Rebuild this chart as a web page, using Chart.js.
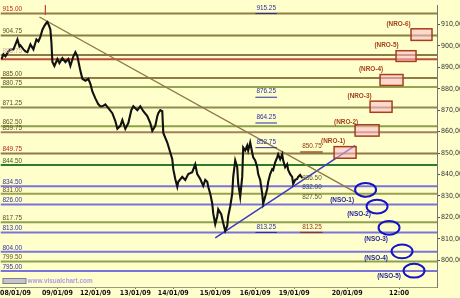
<!DOCTYPE html>
<html><head><meta charset="utf-8">
<script src="https://cdn.jsdelivr.net/npm/chart.js@4.4.1/dist/chart.umd.min.js"></script>
<style>html,body{margin:0;padding:0;background:#FFFFCC;overflow:hidden}#wrap{width:460px;height:298px}</style>
</head><body><div id="wrap"><canvas id="c" width="460" height="298"></canvas></div>
<script>
// ---- price path (bar index, price) ----
const barIndex = [1,3,5,8,10,13,15,17,19,20,23,25,27,30,33,36,38,40,42,44,46,47,49,50,51,52,54,57,59,62,65,68,70,73,75,77,78,80,82,85,88,90,92,95,98,100,102,105,108,112,115,117,120,122,125,128,131,133,137,140,143,147,150,152,155,157,158,160,162,163,167,170,172,173,175,177,178,182,185,188,192,195,197,200,203,205,207,208,210,212,213,215,217,218,221,223,225,227,228,230,232,233,235,237,238,240,242,243,245,247,248,250,252,253,255,257,258,260,262,263,265,267,268,270,272,273,275,277,278,280,282,283,285,287,288,290,292,293,295,297,298,300,302];
const closePrice = [893.8,896.0,895.1,897.4,898.3,898.3,900.6,902.9,899.7,900.2,898.3,897.4,897.0,900.6,898.3,902.9,902.0,904.3,907.5,909.3,910.7,911.1,908.9,907.5,901.5,892.4,890.6,893.8,891.9,894.2,892.4,893.8,890.6,895.1,897.0,895.1,892.8,888.3,884.6,883.7,884.6,882.3,878.7,875.5,872.7,871.8,871.8,872.7,870.9,868.6,864.9,861.3,862.7,865.4,861.3,864.0,870.0,871.8,870.0,871.8,869.5,867.2,864.0,860.4,862.7,867.2,868.6,870.0,869.5,859.4,854.9,850.3,847.1,842.5,837.9,834.3,836.6,838.9,837.5,840.2,841.1,844.8,840.2,837.9,834.7,837.5,836.6,834.3,831.1,826.5,821.9,816.9,820.6,823.8,821.5,817.4,813.7,816.0,820.6,825.1,831.1,838.9,846.6,843.4,835.7,829.7,838.9,852.6,851.2,853.5,851.2,854.9,850.3,848.0,846.6,843.4,840.2,837.5,831.1,826.5,829.7,833.4,836.6,840.2,842.5,842.1,845.7,848.0,849.4,847.1,849.4,846.6,843.4,844.8,842.1,840.2,838.9,835.7,837.5,837.9,838.9,839.8,838.4];

// ---- horizontal levels ----
const levelPrices = [915.00,904.75,895.75,893.75,885.00,880.75,871.25,862.50,859.75,849.75,844.50,834.50,831.00,826.00,817.75,813.00,804.00,799.50,795.00];
const levelLabels = ['915.00','904.75','895.75','','885.00','880.75','871.25','862.50','859.75','849.75','844.50','834.50','831.00','826.00','817.75','813.00','804.00','799.50','795.00'];
const levelLineColors = ['#8F7F45','#8A8040','#8A7A45','#C04A3A','#8F7B45','#93A352','#8F8A50','#8DA048','#A08060','#907A45','#2E7D2E','#7B74D8','#9AA050','#7B74D8','#8FA050','#7B74D8','#7B74D8','#8FA050','#7B74D8'];
const levelTextColors = ['#C02020','#5A5020','#D0A8A0','#000','#5A5020','#5A5020','#5A5020','#5A5020','#5A5020','#C02020','#3A5A20','#3030A0','#5A5020','#3030A0','#5A5020','#3030A0','#3030A0','#5A5020','#3030A0'];

// ---- pivot labels (middle, blue underlined) ----
const pivotPrices = [915.25,876.25,864.25,852.75,813.25];
const pivotBar = 266;
// ---- right-side labels ----
const sideLabelPrices = [850.75,836.50,832.00,827.50,813.25];
const sideLabelText = ['850.75','836.50','832.00','827.50','813.25'];
const sideLabelUnderline = [true,false,false,false,true];
const sideBar = 302;

// ---- trend lines ----
const downTrendBars = [39,365];
const downTrendPrices = [913.4,829.2];
const upTrendBars = [215,355];
const upTrendPrices = [810.5,853.5];
const markerBar = 45;
const markerPrices = [919,914.5];

// ---- NRO boxes ----
const nroNames = ['(NRO-1)','(NRO-2)','(NRO-3)','(NRO-4)','(NRO-5)','(NRO-6)'];
const nroBarFrom = [334,355,370,380,396,411];
const nroBarTo = [356,379,392,403,416,432];
const nroLow = [847.6,857.9,869.0,881.5,892.7,902.5];
const nroHigh = [853.0,863.2,874.2,886.6,897.7,907.9];
const nroLabelBar = [333,346,359.5,371,386.5,398.5];
const nroLabelPrice = [853.9,862.8,874.7,887.5,898.5,908.5];

// ---- NSO ellipses ----
const nsoNames = ['(NSO-1)','(NSO-2)','(NSO-3)','(NSO-4)','(NSO-5)'];
const nsoBar = [365.5,377,389,402,414];
const nsoPrice = [832.9,825.1,815.2,804.2,795.2];
const nsoHalfBars = 10.5;
const nsoHalfPrice = 3.2;
const nsoLabelBar = [342,359,376,376,389];
const nsoLabelPrice = [826.2,819.7,808.2,799.5,790.9];

// ---- axis ticks ----
const dateTickBars = [15,57,95,135,173,215,255,294,347,399];
const dateTickLabels = ['08/01/09','09/01/09','12/01/09','13/01/09','14/01/09','15/01/09','16/01/09','19/01/09','20/01/09','12:00'];
const priceTicks = [800,810,820,830,840,850,860,870,880,890,900,910];

const X_MIN = 0, X_MAX = 437;

const datasets = [];
datasets.push({data: barIndex.map((b,i)=>({x:b,y:closePrice[i]})), borderColor:'#121212', borderWidth:2.1, pointRadius:0, order:0});
datasets.push({data: downTrendBars.map((b,i)=>({x:b,y:downTrendPrices[i]})), borderColor:'#8E7846', borderWidth:1.4, pointRadius:0, order:1});
datasets.push({data: upTrendBars.map((b,i)=>({x:b,y:upTrendPrices[i]})), borderColor:'#3C3CC8', borderWidth:1.6, pointRadius:0, order:1});
datasets.push({data: markerPrices.map(p=>({x:markerBar,y:p})), borderColor:'#D04040', borderWidth:1, pointRadius:0, order:1});
levelPrices.forEach((p,i)=>{
  datasets.push({data:[{x:X_MIN,y:p},{x:X_MAX,y:p}], borderColor:levelLineColors[i], borderWidth:2, pointRadius:0, order:2});
});

const FONT = '"Liberation Sans Narrow","DejaVu Sans Condensed","Liberation Sans",Arial,sans-serif';

const overlay = {
  id:'overlay',
  beforeDraw(chart){
    const c = chart.ctx; c.save(); c.fillStyle='#FFFFCC'; c.fillRect(0,0,chart.width,chart.height); c.restore();
  },
  afterDatasetsDraw(chart){
    const ctx = chart.ctx, xs = chart.scales.x, ys = chart.scales.y;
    const px = v => xs.getPixelForValue(v), py = v => ys.getPixelForValue(v);
    function text(str, x, y, color, align, bold, size, sq){
      ctx.save(); ctx.translate(x,y); ctx.scale(sq,1);
      ctx.font = (bold?'bold ':'') + size + 'px "Liberation Sans",Arial,sans-serif';
      ctx.fillStyle = color; ctx.textAlign = align; ctx.textBaseline = 'bottom';
      ctx.fillText(str,0,0);
      const w = ctx.measureText(str).width*sq;
      ctx.restore();
      return w;
    }
    levelPrices.forEach((p,i)=>{
      if(!levelLabels[i]) return;
      text(levelLabels[i], px(X_MIN)+2, py(p)-0.5, levelTextColors[i], 'left', false, 8, 0.8);
    });
    pivotPrices.forEach(p=>{
      const y = py(p)-1.5, x = px(pivotBar);
      const w = text(p.toFixed(2), x, y, '#2A2AA8', 'center', false, 8, 0.8);
      ctx.save(); ctx.strokeStyle='#2A2AA8'; ctx.lineWidth=1;
      ctx.beginPath(); ctx.moveTo(x-w/2-1, py(p)+0.5); ctx.lineTo(x+w/2+1, py(p)+0.5); ctx.stroke(); ctx.restore();
    });
    sideLabelPrices.forEach((p,i)=>{
      const under = sideLabelUnderline[i];
      const col = under ? '#8A3A10' : (i===2 ? '#3A3A70' : '#5A5A30');
      const x = px(sideBar), y = py(p)-(under?1.5:0.5);
      const w = text(sideLabelText[i], x, y, col, 'left', false, 8, 0.8);
      if(under){
        ctx.save(); ctx.strokeStyle='#8A3A10'; ctx.lineWidth=1.2;
        ctx.beginPath(); ctx.moveTo(x-2, py(p)+0.5); ctx.lineTo(x+w+1, py(p)+0.5); ctx.stroke(); ctx.restore();
      }
    });
    nroNames.forEach((n,i)=>{
      const x0 = px(nroBarFrom[i]), x1 = px(nroBarTo[i]), y0 = py(nroHigh[i]), y1 = py(nroLow[i]);
      ctx.save();
      ctx.fillStyle='rgba(255,185,205,0.55)'; ctx.fillRect(x0,y0,x1-x0,y1-y0);
      ctx.strokeStyle='#A4401C'; ctx.lineWidth=1.5; ctx.strokeRect(x0,y0,x1-x0,y1-y0);
      ctx.restore();
      text(n, px(nroLabelBar[i]), py(nroLabelPrice[i]), '#A4401C', 'center', true, 8, 0.8);
    });
    nsoNames.forEach((n,i)=>{
      const cx = px(nsoBar[i]), cy = py(nsoPrice[i]);
      const rx = px(nsoBar[i]+nsoHalfBars)-cx, ry = cy-py(nsoPrice[i]+nsoHalfPrice);
      ctx.save(); ctx.strokeStyle='#1414C8'; ctx.lineWidth=2;
      ctx.beginPath(); ctx.ellipse(cx,cy,rx,ry,0,0,Math.PI*2); ctx.stroke(); ctx.restore();
      text(n, px(nsoLabelBar[i]), py(nsoLabelPrice[i]), '#1E1E9A', 'center', true, 8, 0.8);
    });
    const ca = chart.chartArea;
    ctx.save();
    ctx.fillStyle='#C4C4CC'; ctx.strokeStyle='#80808C'; ctx.lineWidth=1;
    ctx.fillRect(ca.left+2.5, ca.bottom-8.5, 23, 5); ctx.strokeRect(ca.left+2.5, ca.bottom-8.5, 23, 5);
    ctx.restore();
    text('www.visualchart.com', ca.left+27, ca.bottom-2, '#A89EE6', 'left', true, 8, 0.8);
  }
};

new Chart(document.getElementById('c'), {
  type:'line',
  data:{datasets},
  options:{
    responsive:false, animation:false, devicePixelRatio:1,
    layout:{padding:0},
    plugins:{legend:{display:false}, tooltip:{enabled:false}},
    elements:{line:{tension:0}},
    scales:{
      x:{type:'linear', min:X_MIN, max:X_MAX, position:'bottom',
        afterBuildTicks:s=>{s.ticks = dateTickBars.map(v=>({value:v}));},
        afterFit:s=>{s.height=11;},
        grid:{display:true, drawOnChartArea:false, drawTicks:true, tickLength:2, color:'#777'},
        border:{display:true, color:'#9A9A80', width:1},
        ticks:{autoSkip:false, maxRotation:0, padding:0, color:'#111', font:{family:FONT, size:7, weight:'bold'},
          callback:(v)=>{const k=dateTickBars.indexOf(v); return k>=0?dateTickLabels[k]:'';}}
      },
      y:{type:'linear', position:'right', min:787.6, max:918.9,
        afterBuildTicks:s=>{s.ticks = priceTicks.map(v=>({value:v}));},
        afterFit:s=>{s.width=23;},
        grid:{display:true, drawOnChartArea:false, drawTicks:true, tickLength:3, color:'#555'},
        border:{display:true, color:'#777', width:1},
        ticks:{padding:1, color:'#333', font:{family:FONT, size:7},
          callback:v=>v.toFixed(2).replace('.',',')}
      }
    }
  },
  plugins:[overlay]
});
</script></body></html>
